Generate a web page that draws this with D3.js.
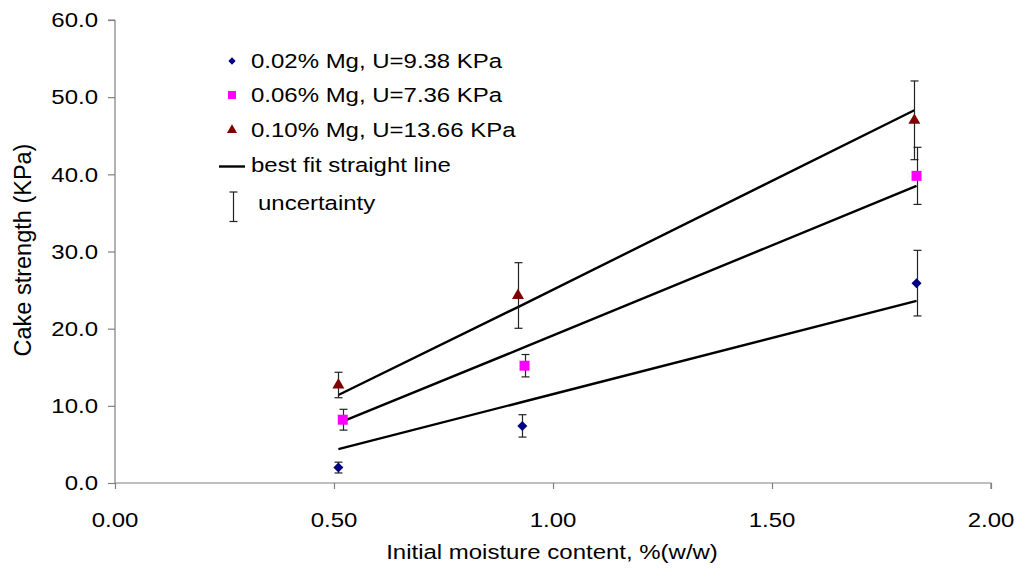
<!DOCTYPE html>
<html>
<head>
<meta charset="utf-8">
<script src="https://cdn.jsdelivr.net/npm/d3@7"></script>
<style>
  html, body { margin: 0; padding: 0; background: #fff; }
  svg { display: block; font-family: "Liberation Sans", Arial, sans-serif; }
</style>
</head>
<body>
<svg id="chart" width="1026" height="572"></svg>
<script>
// Measured cake strength at three initial moisture contents, one series per Mg level
const xBlue = [0.51, 0.93, 1.83];
const yBlue = [2.0, 7.4, 25.9];
const errBlue = [0.7, 1.45, 4.25];
const fitBlue = [4.4, 10.5, 23.6];

const xPink = [0.52, 0.935, 1.83];
const yPink = [8.2, 15.2, 39.8];
const errPink = [1.35, 1.45, 3.7];
const fitPink = [8.0, 17.6, 38.5];

const xRed = [0.51, 0.92, 1.825];
const yRed = [12.7, 24.3, 47.0];
const errRed = [1.65, 4.25, 5.1];
const fitRed = [11.4, 22.8, 48.3];

const seriesNames = ["0.02% Mg, U=9.38 KPa", "0.06% Mg, U=7.36 KPa", "0.10% Mg, U=13.66 KPa"];
const fitLabel = "best fit straight line";
const errLabel = "uncertainty";

const xTicks = [0, 0.5, 1.0, 1.5, 2.0];
const yTicks = [0, 10, 20, 30, 40, 50, 60];
const xTitle = "Initial moisture content, %(w/w)";
const yTitle = "Cake strength (KPa)";

const FS = 20.5;   // font size
const SX = 1.17;   // horizontal stretch of the lettering

const svg = d3.select("#chart");
const plotLeft = 115, plotRight = 991, plotTop = 20, plotBottom = 483;

const x = d3.scaleLinear().domain([0, 2]).range([plotLeft, plotRight]);
const y = d3.scaleLinear().domain([0, 60]).range([plotBottom, plotTop]);

// place a horizontally stretched text
function label(g, str, px, py, anchor) {
  return g.append("text")
    .attr("transform", `translate(${px},${py}) scale(${SX},1)`)
    .attr("text-anchor", anchor || "start")
    .attr("font-size", FS)
    .attr("fill", "#000")
    .text(str);
}

// axes
const axisColor = "#808080";
const yAxis = svg.append("g").attr("transform", `translate(${plotLeft},0)`)
  .call(d3.axisLeft(y).tickValues(yTicks).tickSize(7).tickFormat(() => ""));
const xAxis = svg.append("g").attr("transform", `translate(0,${plotBottom})`)
  .call(d3.axisBottom(x).tickValues(xTicks).tickSize(6).tickFormat(() => ""));
[yAxis, xAxis].forEach(a => {
  a.select(".domain").attr("stroke", axisColor).attr("stroke-width", 1.2);
  a.selectAll(".tick line").attr("stroke", axisColor).attr("stroke-width", 1.2);
});
yAxis.select(".domain").attr("d", `M0,${plotTop}H-7M0,${plotTop}V${plotBottom}`);
xAxis.select(".domain").attr("d", `M${plotLeft},0H${plotRight}V6`);

const labels = svg.append("g");
yTicks.forEach(t => label(labels, d3.format(".1f")(t), 98, y(t) + 7.3, "end"));
xTicks.forEach(t => label(labels, d3.format(".2f")(t), x(t), 527, "middle"));
label(labels, xTitle, (plotLeft + plotRight) / 2 - 1, 559, "middle");

svg.append("text")
  .attr("transform", `translate(31,250) rotate(-90)`)
  .attr("text-anchor", "middle")
  .attr("font-size", 23.5)
  .text(yTitle);

// series definitions
const series = [
  { xs: xBlue, ys: yBlue, err: errBlue, fit: fitBlue, color: "#000080", shape: d3.symbolDiamond2, size: 64 },
  { xs: xPink, ys: yPink, err: errPink, fit: fitPink, color: "#FF00FF", shape: d3.symbolSquare, size: 100 },
  { xs: xRed,  ys: yRed,  err: errRed,  fit: fitRed,  color: "#800000", shape: d3.symbolTriangle, size: 62 }
];

const plot = svg.append("g");
const line = d3.line().x(d => x(d[0])).y(d => y(d[1]));

// best fit lines
series.forEach(s => {
  plot.append("path")
    .attr("d", line(s.xs.map((v, i) => [v, s.fit[i]])))
    .attr("fill", "none")
    .attr("stroke", "#000")
    .attr("stroke-width", 2.4);
});

// error bars
const cap = 4;
series.forEach(s => {
  s.xs.forEach((v, i) => {
    const cx = Math.round(x(v)) + 0.5;
    const y1 = y(s.ys[i] + s.err[i]), y2 = y(s.ys[i] - s.err[i]);
    const g = plot.append("g").attr("stroke", "#222").attr("stroke-width", 1.2);
    g.append("line").attr("x1", cx).attr("x2", cx).attr("y1", y1).attr("y2", y2);
    g.append("line").attr("x1", cx - cap).attr("x2", cx + cap).attr("y1", y1).attr("y2", y1);
    g.append("line").attr("x1", cx - cap).attr("x2", cx + cap).attr("y1", y2).attr("y2", y2);
  });
});

// markers
series.forEach(s => {
  plot.selectAll(null)
    .data(s.xs.map((v, i) => [v, s.ys[i]]))
    .enter().append("path")
    .attr("d", d3.symbol().type(s.shape).size(s.size))
    .attr("transform", d => `translate(${x(d[0])},${y(d[1])})`)
    .attr("fill", s.color);
});

// legend
const legend = svg.append("g");
const rowY = [68, 102, 137, 172, 210];
const legSizes = [34, 64, 44];
series.forEach((s, i) => {
  legend.append("path")
    .attr("d", d3.symbol().type(s.shape).size(legSizes[i]))
    .attr("transform", `translate(232,${rowY[i] - 7})`)
    .attr("fill", s.color);
  label(legend, seriesNames[i], 251, rowY[i]);
});
legend.append("line")
  .attr("x1", 219).attr("x2", 245)
  .attr("y1", rowY[3] - 5.5).attr("y2", rowY[3] - 5.5)
  .attr("stroke", "#000").attr("stroke-width", 2.4);
label(legend, fitLabel, 251, rowY[3]);
const eg = legend.append("g").attr("stroke", "#222").attr("stroke-width", 1.2);
eg.append("line").attr("x1", 233.5).attr("x2", 233.5).attr("y1", 192).attr("y2", 221.5);
eg.append("line").attr("x1", 229.5).attr("x2", 237.5).attr("y1", 192).attr("y2", 192);
eg.append("line").attr("x1", 229.5).attr("x2", 237.5).attr("y1", 221.5).attr("y2", 221.5);
label(legend, errLabel, 258, rowY[4]);
</script>
</body>
</html>
